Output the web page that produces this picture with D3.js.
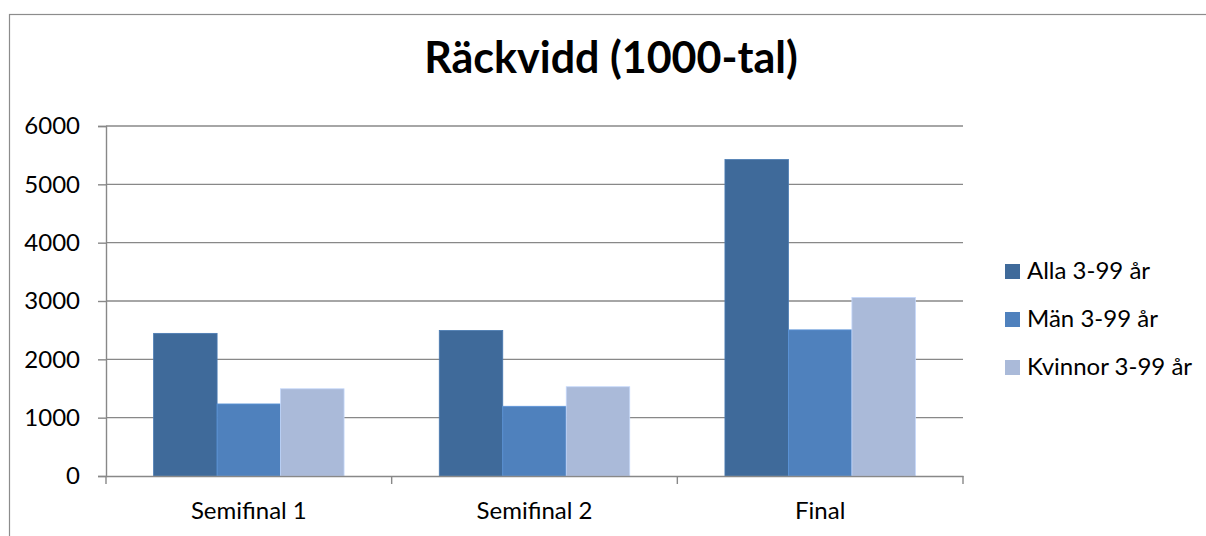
<!DOCTYPE html>
<html>
<head>
<meta charset="utf-8">
<script src="https://cdn.jsdelivr.net/npm/d3@7"></script>
<style>
  body { margin: 0; background: #fff; }
  text { font-family: Lato, "Open Sans", sans-serif; fill: #000; }
</style>
</head>
<body>
<div id="chart"></div>
<script>
var categories = ['Semifinal 1', 'Semifinal 2', 'Final'];
var seriesNames = ['Alla 3-99 år', 'Män 3-99 år', 'Kvinnor 3-99 år'];
var alla = [2445, 2495, 5425];
var man = [1235, 1195, 2505];
var kvinnor = [1495, 1530, 3060];
var yTicks = [0, 1000, 2000, 3000, 4000, 5000, 6000];
var colors = ['#3f6a9a', '#4f81bd', '#aabad9'];

var values = [alla, man, kvinnor];

var width = 1206, height = 536;
var plot = {left: 106, right: 963, top: 126, bottom: 476};

var svg = d3.select('#chart').append('svg')
    .attr('width', width).attr('height', height);

// outer chart border (runs off the right and bottom of the picture)
svg.append('rect')
    .attr('x', 9.5).attr('y', 14.5)
    .attr('width', 1220).attr('height', 560)
    .attr('fill', 'none').attr('stroke', '#8c8c8c').attr('stroke-width', 1.2);

svg.append('text')
    .attr('x', 611).attr('y', 73)
    .attr('text-anchor', 'middle')
    .style('font-size', '43px').style('font-weight', 'bold')
    .text('Räckvidd (1000-tal)');

var x0 = d3.scaleBand().domain(categories).range([plot.left, plot.right]);
var bw = x0.bandwidth();
var x1 = d3.scaleBand().domain(d3.range(seriesNames.length)).range([bw / 6, bw * 5 / 6]);
var y = d3.scaleLinear().domain([0, 6000]).range([plot.bottom, plot.top]);

// gridlines
svg.append('g').selectAll('line').data(yTicks.slice(1)).enter().append('line')
    .attr('x1', plot.left).attr('x2', plot.right)
    .attr('y1', function(d) { return y(d); }).attr('y2', function(d) { return y(d); })
    .attr('stroke', '#888').attr('stroke-width', 1.4);

// bars
var groups = svg.append('g').selectAll('g').data(categories).enter().append('g')
    .attr('transform', function(d) { return 'translate(' + x0(d) + ',0)'; });
groups.selectAll('rect')
    .data(function(d, i) { return values.map(function(s, k) { return {k: k, v: s[i]}; }); })
    .enter().append('rect')
    .attr('x', function(d) { return x1(d.k); })
    .attr('width', x1.bandwidth())
    .attr('y', function(d) { return y(d.v); })
    .attr('height', function(d) { return y(0) - y(d.v); })
    .attr('fill', function(d) { return colors[d.k]; })
    .attr('stroke', function(d) { return d3.color(colors[d.k]).brighter(0.4); })
    .attr('stroke-width', 0.8);

// y axis
var yAxis = svg.append('g')
    .attr('transform', 'translate(' + plot.left + ',0)')
    .call(d3.axisLeft(y).tickValues(yTicks).tickSize(8).tickPadding(18).tickFormat(d3.format('d')));
yAxis.select('.domain').attr('stroke', '#888').attr('stroke-width', 1.4);
yAxis.selectAll('.tick line').attr('stroke', '#888').attr('stroke-width', 1.4);
yAxis.selectAll('text').style('font-size', '24px').attr('fill', '#000');

// x axis
var xAxis = svg.append('g')
    .attr('transform', 'translate(0,' + plot.bottom + ')')
    .call(d3.axisBottom(x0).tickSize(0).tickPadding(26));
xAxis.select('.domain').attr('stroke', '#888').attr('stroke-width', 1.4);
xAxis.selectAll('text').style('font-size', '24px').attr('fill', '#000');
xAxis.selectAll('.sep').data(d3.range(categories.length + 1)).enter().append('line')
    .attr('x1', function(i) { return plot.left + i * bw; })
    .attr('x2', function(i) { return plot.left + i * bw; })
    .attr('y1', 0).attr('y2', 8)
    .attr('stroke', '#888').attr('stroke-width', 1.4);

// legend
var legend = svg.append('g').attr('transform', 'translate(1005,264)');
var item = legend.selectAll('g').data(seriesNames).enter().append('g')
    .attr('transform', function(d, i) { return 'translate(0,' + i * 48 + ')'; });
item.append('rect')
    .attr('width', 15).attr('height', 15)
    .attr('fill', function(d, i) { return colors[i]; });
item.append('text')
    .attr('x', 22).attr('y', 15)
    .style('font-size', '24px')
    .text(function(d) { return d; });
</script>
</body>
</html>
